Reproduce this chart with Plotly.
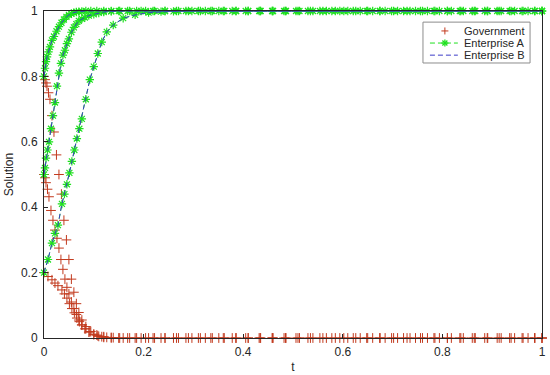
import plotly.graph_objects as go

# ---------------- data ----------------
# Run 1 (initial value 0.2)
T1 = [0, 0.008, 0.016, 0.022, 0.028, 0.036, 0.041, 0.046, 0.051, 0.056, 0.061, 0.066,
      0.071, 0.076, 0.084, 0.092, 0.1, 0.108, 0.116, 0.126, 0.139, 0.159, 0.183, 0.21,
      0.235, 0.26, 0.285, 0.31, 0.335, 0.36, 0.385, 0.41, 0.435, 0.46, 0.485, 0.51,
      0.535, 0.56, 0.585, 0.61, 0.635, 0.66, 0.685, 0.71, 0.735, 0.76, 0.785, 0.81,
      0.835, 0.86, 0.885, 0.91, 0.935, 0.96, 0.985, 1.0]
GOV1 = [0.2, 0.188, 0.178, 0.168, 0.16, 0.147, 0.135, 0.122, 0.105, 0.09, 0.077, 0.061,
        0.05, 0.04, 0.028, 0.019, 0.012, 0.007, 0.004, 0.002, 0.001, 0, 0, 0,
        0, 0, 0, 0, 0, 0, 0, 0, 0, 0, 0, 0,
        0, 0, 0, 0, 0, 0, 0, 0, 0, 0, 0, 0,
        0, 0, 0, 0, 0, 0, 0, 0]
ENT1 = [0.2, 0.24, 0.29, 0.32, 0.345, 0.41, 0.44, 0.47, 0.505, 0.54, 0.575, 0.61,
        0.64, 0.67, 0.73, 0.79, 0.83, 0.87, 0.905, 0.936, 0.957, 0.978, 0.988, 0.995,
        0.998, 0.999, 1, 1, 1, 1, 1, 1, 1, 1, 1, 1,
        1, 1, 1, 1, 1, 1, 1, 1, 1, 1, 1, 1,
        1, 1, 1, 1, 1, 1, 1, 1]

# Run 2 (initial value 0.5)
T2 = [0, 0.002, 0.004, 0.007, 0.01, 0.014, 0.018, 0.022, 0.026, 0.03, 0.034, 0.038,
      0.042, 0.046, 0.05, 0.055, 0.06, 0.065, 0.07, 0.076, 0.082, 0.09, 0.1, 0.11,
      0.12, 0.135, 0.15, 0.168, 0.186, 0.204, 0.222, 0.243, 0.266, 0.29, 0.314, 0.338,
      0.362, 0.386, 0.41, 0.434, 0.458, 0.482, 0.506, 0.53, 0.554, 0.578, 0.602, 0.626,
      0.65, 0.674, 0.698, 0.722, 0.746, 0.77, 0.794, 0.818, 0.842, 0.866, 0.89, 0.914,
      0.938, 0.962, 0.986, 1.0]
GOV2 = [0.5, 0.49, 0.475, 0.455, 0.432, 0.39, 0.36, 0.33, 0.305, 0.275, 0.24, 0.21,
        0.18, 0.155, 0.135, 0.11, 0.09, 0.072, 0.055, 0.04, 0.028, 0.018, 0.01, 0.005,
        0.002, 0.001, 0, 0, 0, 0, 0, 0, 0, 0, 0, 0,
        0, 0, 0, 0, 0, 0, 0, 0, 0, 0, 0, 0,
        0, 0, 0, 0, 0, 0, 0, 0, 0, 0, 0, 0,
        0, 0, 0, 0]
ENT2 = [0.5, 0.52, 0.55, 0.575, 0.6, 0.64, 0.68, 0.72, 0.77, 0.81, 0.84, 0.865,
        0.88, 0.9, 0.915, 0.935, 0.95, 0.96, 0.97, 0.976, 0.98, 0.986, 0.99, 0.994,
        0.997, 0.999, 1, 1, 1, 1, 1, 1, 1, 1, 1, 1,
        1, 1, 1, 1, 1, 1, 1, 1, 1, 1, 1, 1,
        1, 1, 1, 1, 1, 1, 1, 1, 1, 1, 1, 1,
        1, 1, 1, 1]

# Run 3 (initial value 0.8)
T3 = [0, 0.002, 0.004, 0.006, 0.009, 0.012, 0.016, 0.02, 0.025, 0.03, 0.035, 0.04,
      0.045, 0.05, 0.055, 0.06, 0.065, 0.07, 0.076, 0.084, 0.094, 0.106, 0.12, 0.135,
      0.152, 0.172, 0.195, 0.219, 0.243, 0.27, 0.297, 0.324, 0.351, 0.378, 0.405, 0.432,
      0.459, 0.486, 0.513, 0.54, 0.567, 0.594, 0.621, 0.648, 0.675, 0.702, 0.729, 0.756,
      0.783, 0.81, 0.837, 0.864, 0.891, 0.918, 0.945, 0.972, 1.0]
GOV3 = [0.8, 0.79, 0.78, 0.77, 0.75, 0.73, 0.68, 0.63, 0.56, 0.5, 0.44, 0.36,
        0.3, 0.24, 0.18, 0.14, 0.105, 0.078, 0.055, 0.035, 0.02, 0.009, 0.004, 0.001,
        0, 0, 0, 0, 0, 0, 0, 0, 0, 0, 0, 0,
        0, 0, 0, 0, 0, 0, 0, 0, 0, 0, 0, 0,
        0, 0, 0, 0, 0, 0, 0, 0, 0]
ENT3 = [0.8, 0.825, 0.845, 0.86, 0.875, 0.89, 0.91, 0.922, 0.938, 0.952, 0.964, 0.974,
        0.982, 0.988, 0.992, 0.995, 0.997, 0.998, 0.999, 1, 1, 1, 1, 1,
        1, 1, 1, 1, 1, 1, 1, 1, 1, 1, 1, 1,
        1, 1, 1, 1, 1, 1, 1, 1, 1, 1, 1, 1,
        1, 1, 1, 1, 1, 1, 1, 1, 1]

TIMES = [T1, T2, T3]
GOVERNMENT = [GOV1, GOV2, GOV3]
ENTERPRISE_A = [ENT1, ENT2, ENT3]
ENTERPRISE_B = [ENT1, ENT2, ENT3]   # drawn on top of Enterprise A (same values)

SERIES_NAMES = ["Government", "Enterprise A", "Enterprise B"]
X_TICKS = [0, 0.2, 0.4, 0.6, 0.8, 1]
Y_TICKS = [0, 0.2, 0.4, 0.6, 0.8, 1]
X_TICK_TEXT = ["0", "0.2", "0.4", "0.6", "0.8", "1"]
Y_TICK_TEXT = ["0", "0.2", "0.4", "0.6", "0.8", "1"]

for t, g, a, b in zip(TIMES, GOVERNMENT, ENTERPRISE_A, ENTERPRISE_B):
    assert len(t) == len(g) == len(a) == len(b), (len(t), len(g), len(a), len(b))

# ---------------- figure ----------------
GOV_COLOR = "#c23a1e"
ENTA_COLOR = "#1ee01e"
ENTB_COLOR = "#3c3cc8"
FONT = "Liberation Sans, Arial"
DASH = "5px,3px"

fig = go.Figure()

for t, g in zip(TIMES, GOVERNMENT):
    fig.add_trace(go.Scatter(
        x=t, y=g, mode="markers", name=SERIES_NAMES[0],
        marker=dict(symbol="cross-thin", size=7, line=dict(color=GOV_COLOR, width=1)),
        showlegend=False, cliponaxis=False))

for t, a in zip(TIMES, ENTERPRISE_A):
    fig.add_trace(go.Scatter(
        x=t, y=a, mode="lines+markers", name=SERIES_NAMES[1],
        line=dict(color=ENTA_COLOR, width=1, dash=DASH),
        marker=dict(symbol="asterisk-open", size=7, line=dict(color=ENTA_COLOR, width=1.2)),
        showlegend=False, cliponaxis=False))

for t, b in zip(TIMES, ENTERPRISE_B):
    fig.add_trace(go.Scatter(
        x=t, y=b, mode="lines", name=SERIES_NAMES[2],
        line=dict(color=ENTB_COLOR, width=1, dash=DASH),
        showlegend=False, cliponaxis=False))

axis_common = dict(
    range=[0, 1], showline=True, linecolor="#262626", linewidth=1, mirror=True,
    ticks="inside", ticklen=4, tickcolor="#262626", showgrid=False, zeroline=False,
    tickfont=dict(family=FONT, size=12, color="#262626"),
    automargin=False, ticklabeloverflow="allow",
)

# ---- compact MATLAB-style legend box (layout decoration, paper coordinates) ----
LEG_X0, LEG_X1, LEG_Y0, LEG_Y1 = 0.761, 0.976, 0.841, 0.966
ROW_Y = [0.939, 0.902, 0.865]
SAMPLE_X0, SAMPLE_X1, SAMPLE_XC, TEXT_X = 0.775, 0.831, 0.805, 0.84
HX, HY = 3.5 / 498, 3.5 / 327          # half marker size in paper units
DX, DY = 2.5 / 498, 2.5 / 327


def seg(x0, y0, x1, y1, color, width=1, dash=None):
    ln = dict(color=color, width=width)
    if dash:
        ln["dash"] = dash
    return dict(type="line", xref="paper", yref="paper",
                x0=x0, y0=y0, x1=x1, y1=y1, line=ln)


shapes = [dict(type="rect", xref="paper", yref="paper", x0=LEG_X0, x1=LEG_X1,
               y0=LEG_Y0, y1=LEG_Y1, fillcolor="white",
               line=dict(color="#8c8c8c", width=1), layer="above")]
# Government sample: "+"
shapes.append(seg(SAMPLE_XC - HX, ROW_Y[0], SAMPLE_XC + HX, ROW_Y[0], GOV_COLOR))
shapes.append(seg(SAMPLE_XC, ROW_Y[0] - HY, SAMPLE_XC, ROW_Y[0] + HY, GOV_COLOR))
# Enterprise A sample: dashed line with "*"
shapes.append(seg(SAMPLE_X0, ROW_Y[1], SAMPLE_X1, ROW_Y[1], ENTA_COLOR, dash=DASH))
shapes.append(seg(SAMPLE_XC - HX, ROW_Y[1], SAMPLE_XC + HX, ROW_Y[1], ENTA_COLOR, 1.3))
shapes.append(seg(SAMPLE_XC, ROW_Y[1] - HY, SAMPLE_XC, ROW_Y[1] + HY, ENTA_COLOR, 1.3))
shapes.append(seg(SAMPLE_XC - DX, ROW_Y[1] - DY, SAMPLE_XC + DX, ROW_Y[1] + DY, ENTA_COLOR, 1.3))
shapes.append(seg(SAMPLE_XC - DX, ROW_Y[1] + DY, SAMPLE_XC + DX, ROW_Y[1] - DY, ENTA_COLOR, 1.3))
# Enterprise B sample: dashed line
shapes.append(seg(SAMPLE_X0, ROW_Y[2], SAMPLE_X1, ROW_Y[2], ENTB_COLOR, dash=DASH))

annotations = []
for name, yy in zip(SERIES_NAMES, ROW_Y):
    annotations.append(dict(text=name, xref="paper", yref="paper", x=TEXT_X, y=yy,
                            xanchor="left", yanchor="middle", showarrow=False,
                            font=dict(family=FONT, size=11, color="#262626")))

fig.update_layout(
    width=550, height=375,
    margin=dict(l=44, r=8, t=11, b=37),
    paper_bgcolor="white", plot_bgcolor="white",
    font=dict(family=FONT, size=12, color="#262626"),
    xaxis=dict(**axis_common, tickvals=X_TICKS, ticktext=X_TICK_TEXT,
               ticklabelstandoff=3,
               title=dict(text="t", font=dict(size=12), standoff=4)),
    yaxis=dict(**axis_common, tickvals=Y_TICKS, ticktext=Y_TICK_TEXT,
               ticklabelstandoff=3,
               title=dict(text="Solution", font=dict(size=12), standoff=4)),
    shapes=shapes,
    annotations=annotations,
    showlegend=False,
)

fig.write_html("out.html", config={"displayModeBar": False},
               post_script="document.body.style.margin='0';")
